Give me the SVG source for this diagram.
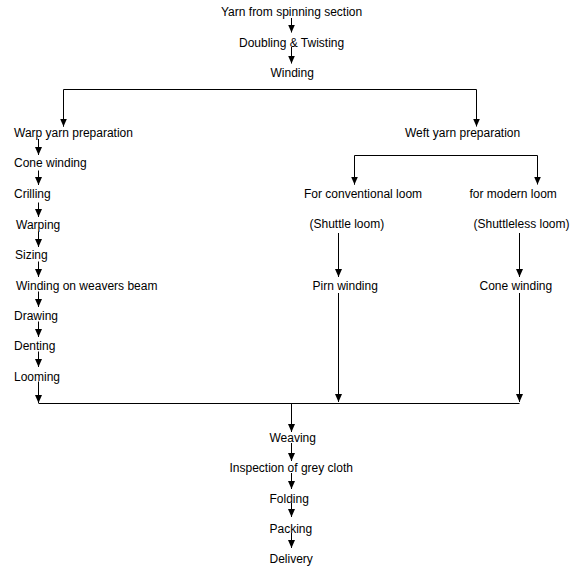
<svg xmlns="http://www.w3.org/2000/svg" width="586" height="569" viewBox="0 0 586 569">
<style>
text{font-family:"Liberation Sans",Arial,sans-serif;font-size:12px;fill:#000}
.c line,.c path{stroke:#000;stroke-width:1;fill:none}
.a{marker-end:url(#ah)}
</style>
<defs>
<marker id="ah" markerUnits="userSpaceOnUse" markerWidth="8" markerHeight="8" refX="8" refY="4" orient="auto">
<path d="M0,0.5 L8,4 L0,7.5 z" fill="#000"/>
</marker>
</defs>
<rect width="586" height="569" fill="#fff"/>
<g id="connectors" class="c">
<line class="a" x1="291.5" y1="18" x2="291.5" y2="32.5"/>
<line class="a" x1="291.5" y1="47" x2="291.5" y2="63.5"/>
<path d="M63.5,126.5 V89.5 H476.5 V126.5" class="a"/>
<line class="a" x1="63.5" y1="90" x2="63.5" y2="126.5"/>
<line class="a" x1="38.5" y1="139" x2="38.5" y2="155"/>
<line class="a" x1="38.5" y1="170.5" x2="38.5" y2="185"/>
<line class="a" x1="38.5" y1="202.5" x2="38.5" y2="217"/>
<line class="a" x1="38.5" y1="231.5" x2="38.5" y2="247"/>
<line class="a" x1="38.5" y1="261.5" x2="38.5" y2="277"/>
<line class="a" x1="38.5" y1="291.5" x2="38.5" y2="307"/>
<line class="a" x1="38.5" y1="321.5" x2="38.5" y2="337"/>
<line class="a" x1="38.5" y1="351.5" x2="38.5" y2="367"/>
<line class="a" x1="38.5" y1="381.5" x2="38.5" y2="403"/>
<path d="M354.5,184.5 V155.5 H537.5 V184.5" class="a"/>
<line class="a" x1="354.5" y1="156" x2="354.5" y2="184.5"/>
<line class="a" x1="338.5" y1="233" x2="338.5" y2="277"/>
<line class="a" x1="519.5" y1="233" x2="519.5" y2="277"/>
<line class="a" x1="338.5" y1="293" x2="338.5" y2="402"/>
<line class="a" x1="519.5" y1="293" x2="519.5" y2="402"/>
<line x1="38.5" y1="403.5" x2="519.5" y2="403.5"/>
<line class="a" x1="291.5" y1="403.5" x2="291.5" y2="432"/>
<line class="a" x1="291.5" y1="443" x2="291.5" y2="461"/>
<line class="a" x1="291.5" y1="473" x2="291.5" y2="489"/>
<line class="a" x1="291.5" y1="503" x2="291.5" y2="517"/>
<line class="a" x1="291.5" y1="533" x2="291.5" y2="548"/>
</g>
<g id="yarn"><text x="221" y="16">Yarn from spinning section</text></g>
<g id="doubling"><text x="239" y="47">Doubling &amp; Twisting</text></g>
<g id="winding"><text x="270.5" y="77">Winding</text></g>
<g id="warp"><text x="14" y="137">Warp yarn preparation</text></g>
<g id="cone-left"><text x="14" y="167">Cone winding</text></g>
<g id="crilling"><text x="14" y="198">Crilling</text></g>
<g id="warping"><text x="16" y="229">Warping</text></g>
<g id="sizing"><text x="15" y="259">Sizing</text></g>
<g id="beam"><text x="16" y="289.5">Winding on weavers beam</text></g>
<g id="drawing"><text x="14" y="320">Drawing</text></g>
<g id="denting"><text x="14" y="350">Denting</text></g>
<g id="looming"><text x="14" y="380.5">Looming</text></g>
<g id="weft"><text x="405" y="137">Weft yarn preparation</text></g>
<g id="conventional"><text x="304" y="197.5">For conventional loom</text><text x="309.5" y="228">(Shuttle loom)</text></g>
<g id="modern"><text x="469.5" y="197.5">for modern loom</text><text x="473.5" y="228">(Shuttleless loom)</text></g>
<g id="pirn"><text x="312.5" y="289.5">Pirn winding</text></g>
<g id="cone-right"><text x="479.5" y="289.5">Cone winding</text></g>
<g id="weaving"><text x="269.5" y="441.5">Weaving</text></g>
<g id="inspection"><text x="229.5" y="471.5">Inspection of grey cloth</text></g>
<g id="folding"><text x="269.5" y="502.5">Folding</text></g>
<g id="packing"><text x="269.5" y="532.5">Packing</text></g>
<g id="delivery"><text x="269.5" y="562.5">Delivery</text></g>
</svg>
